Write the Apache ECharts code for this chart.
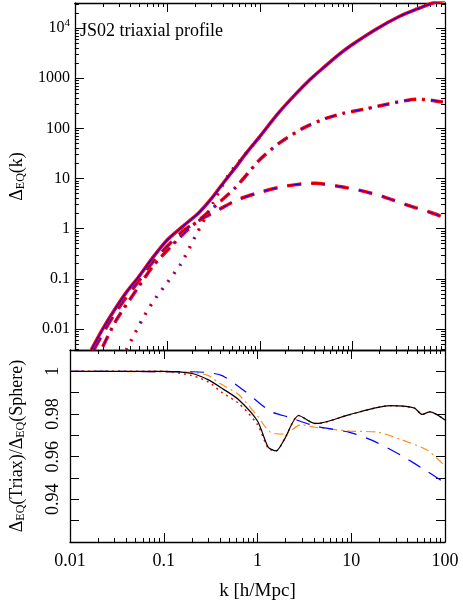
<!DOCTYPE html>
<html>
<head>
<meta charset="utf-8">
<script src="https://cdn.jsdelivr.net/npm/echarts@6/dist/echarts.min.js"></script>
<style>html,body{margin:0;padding:0;background:#fff}#chart{width:463px;height:611px}</style>
</head>
<body>
<div id="chart"></div>
<script>
// top panel: Delta_EQ(k), each curve [k, value]
const totalCurve = [[0.015,0.0038],[0.02,0.01],[0.026,0.022],[0.035,0.05],[0.049,0.11],[0.07,0.27],[0.1,0.6],[0.15,1.15],[0.22,2.1],[0.3,4],[0.39,7.6],[0.55,17],[0.7,31],[1,69],[1.5,180],[2.4,470],[3.5,950],[5,1700],[7,2900],[9.8,4600],[18,9500],[32,17000],[50,24000],[75,32000],[100,36000]];
const haloTwo = [[0.016,0.0038],[0.02,0.008],[0.026,0.018],[0.035,0.04],[0.049,0.09],[0.07,0.22],[0.1,0.45],[0.15,0.92],[0.24,1.6],[0.36,2.4],[0.58,3.8],[1,5.3],[1.7,6.8],[3,7.9],[4,8],[7,7],[12,5.8],[21,4.4],[40,2.9],[70,2.1],[100,1.65]];
const haloOne = [[0.02,0.0044],[0.028,0.015],[0.049,0.07],[0.07,0.18],[0.109,0.44],[0.16,0.9],[0.24,1.7],[0.38,3.6],[0.54,6.5],[0.75,13],[1,24],[1.6,50],[2.9,100],[5,155],[8,200],[14,245],[25,310],[40,365],[51,380],[70,365],[100,330]];
const haloOneLow = [[0.036,0.0038],[0.053,0.015],[0.07,0.035],[0.092,0.069],[0.14,0.2],[0.2,0.7],[0.31,3.2],[0.46,12],[0.69,30],[1,69]];
// bottom panel: ratio triaxial / spherical
const ratioTotal = [[0.01,1],[0.1,1],[0.2,0.999],[0.3,0.996],[0.42,0.992],[0.63,0.9867],[1,0.9767],[1.3,0.9645],[1.58,0.9627],[1.93,0.968],[2.75,0.9793],[4.1,0.9756],[4.7,0.9757],[9.8,0.9798],[26,0.9839],[47,0.9828],[57,0.9798],[69,0.981],[100,0.9772]];
const ratioDotted = [[0.01,1],[0.1,1],[0.2,0.998],[0.3,0.995],[0.42,0.99],[0.63,0.985],[1,0.975],[1.3,0.964],[1.58,0.9627],[1.93,0.968],[2.75,0.9793],[4.1,0.9756],[4.7,0.9757],[9.8,0.9798],[26,0.9839],[47,0.9828],[57,0.9798],[69,0.981],[100,0.9772]];
const ratioOne = [[0.01,1],[0.2,0.9995],[0.3,0.998],[0.39,0.9945],[0.63,0.989],[1,0.979],[1.37,0.9714],[1.93,0.9706],[2.9,0.975],[4.1,0.9738],[9.8,0.972],[19.5,0.9714],[34,0.968],[65,0.963],[100,0.9556]];
const ratioTwo = [[0.01,1],[0.2,0.9998],[0.28,0.9995],[0.42,0.998],[0.74,0.9905],[1.37,0.9813],[2.2,0.9784],[4.1,0.9744],[9.8,0.9713],[17,0.9675],[34,0.9606],[65,0.953],[100,0.9476]];

const font = 'Liberation Serif';
const xTicks = [0.01, 0.1, 1, 10, 100];
const topTicks = [0.01, 0.1, 1, 10, 100, 1000];
const ratioTicks = [0.94, 0.96, 0.98, 1];

const chart = echarts.init(document.getElementById('chart'));

function near(v, list) {
  return list.find((t) => Math.abs(v - t) / t < 1e-6);
}
function frameAxis(type, grid, pos, extra) {
  return Object.assign({
    type, gridIndex: grid, position: pos,
    axisLine: { show: true, onZero: false, lineStyle: { color: '#000', width: 1.3 } },
    axisTick: { show: true, inside: true, length: 9, lineStyle: { color: '#000' } },
    minorTick: { show: true, splitNumber: 9, length: 4, lineStyle: { color: '#000' } },
    splitLine: { show: false },
    axisLabel: { show: false },
  }, extra);
}
const xExtra = { min: 0.01, max: 100, logBase: 10 };
function line(data, grid, color, width, type, z) {
  return { type: 'line', xAxisIndex: grid * 2, yAxisIndex: grid * 2, data, showSymbol: false, smooth: 0.25, silent: true, z,
    lineStyle: { color, width, type } };
}

chart.setOption({
  animation: false,
  grid: [
    { left: 60, top: 3, width: 385, height: 347 },
    { left: 60, top: 350, width: 385, height: 192 },
  ],
  xAxis: [
    frameAxis('log', 0, 'bottom', xExtra),
    frameAxis('log', 0, 'top', xExtra),
    frameAxis('log', 1, 'bottom', Object.assign({}, xExtra, {
      name: 'k [h/Mpc]', nameLocation: 'middle', nameGap: 40,
      nameTextStyle: { fontFamily: font, fontSize: 19, color: '#000' },
      axisLabel: { show: true, margin: 10, fontFamily: font, fontSize: 18, color: '#000',
        formatter: (v) => (near(v, xTicks) ? String(near(v, xTicks)) : '') },
    })),
    frameAxis('log', 1, 'top', xExtra),
  ],
  yAxis: [
    frameAxis('log', 0, 'left', {
      min: 0.0038, max: 31600, logBase: 10,
      name: '{a|Δ}{s|EQ}{a|(k)}', nameLocation: 'middle', nameGap: 38,
      nameTextStyle: { rich: { a: { fontFamily: font, fontSize: 18, color: '#000' }, s: { fontFamily: font, fontSize: 12, color: '#000', verticalAlign: 'bottom', padding: [8, 0, 0, 0] } } },
      axisLabel: { show: true, margin: 5, fontFamily: font, fontSize: 16, color: '#000',
        rich: { b: { fontFamily: font, fontSize: 16, color: '#000' }, p: { fontFamily: font, fontSize: 11, color: '#000', verticalAlign: 'top', padding: [0, 0, 10, 0] } },
        formatter: (v) => {
          if (near(v, [10000])) return '{b|10}{p|4}';
          const t = near(v, topTicks);
          return t ? String(t) : '';
        } },
    }),
    frameAxis('log', 0, 'right', { min: 0.0038, max: 31600, logBase: 10 }),
    frameAxis('value', 1, 'left', {
      min: 0.92, max: 1.01, interval: 0.01,
      minorTick: { show: false },
      name: '{a|Δ}{s|EQ}{a|(Triax)/Δ}{s|EQ}{a|(Sphere)}', nameLocation: 'middle', nameGap: 43,
      nameTextStyle: { rich: { a: { fontFamily: font, fontSize: 18, color: '#000' }, s: { fontFamily: font, fontSize: 12, color: '#000', verticalAlign: 'bottom', padding: [8, 0, 0, 0] } } },
      axisLabel: { show: true, rotate: 90, margin: 8, fontFamily: font, fontSize: 18, color: '#000',
        formatter: (v) => {
          const t = ratioTicks.find((r) => Math.abs(v - r) < 1e-6);
          return t ? String(t) : '';
        } },
    }),
    frameAxis('value', 1, 'right', { min: 0.92, max: 1.01, interval: 0.01, minorTick: { show: false } }),
  ],
  graphic: [{ type: 'text', left: 80, top: 22, style: { text: 'JS02 triaxial profile', fontFamily: font, fontSize: 18, fill: '#000' } }],
  series: [
    line(totalCurve, 0, '#ff0000', 3.5, 'solid', 2),
    line(totalCurve, 0, '#0000ff', 1.2, 'solid', 3),
    line(haloTwo, 0, '#ff0000', 3.5, [14, 10], 2),
    line(haloTwo, 0, '#0000ff', 1, [14, 10], 3),
    line(haloOne, 0, '#ff0000', 3.5, [12, 6, 3, 6], 2),
    line(haloOne, 0, '#0000ff', 1, [12, 6, 3, 6], 3),
    line(haloOneLow, 0, '#ff0000', 3.5, [2, 8], 2),
    line(haloOneLow, 0, '#0000ff', 1, [2, 8], 3),
    line(ratioDotted, 1, '#ff0000', 1.5, [2, 4], 2),
    line(ratioOne, 1, '#ff8c1a', 1.2, [9, 4, 2, 4], 2),
    line(ratioTwo, 1, '#0000ff', 1.2, [14, 10], 2),
    line(ratioTotal, 1, '#000', 1.2, 'solid', 3),
  ],
});
</script>
</body>
</html>
